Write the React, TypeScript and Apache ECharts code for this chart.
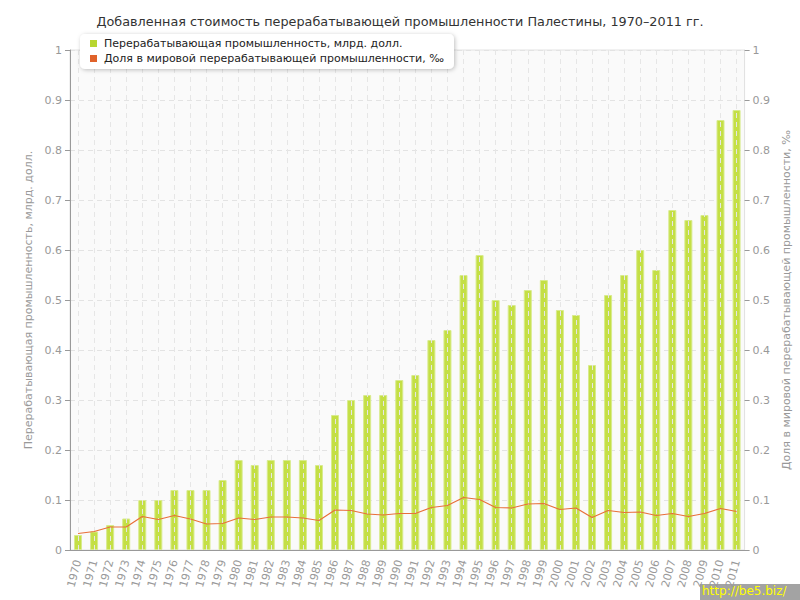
import React, { useEffect, useRef } from "react";
import * as echarts from "echarts";

const years: string[] = [
  "1970","1971","1972","1973","1974","1975","1976","1977","1978","1979",
  "1980","1981","1982","1983","1984","1985","1986","1987","1988","1989",
  "1990","1991","1992","1993","1994","1995","1996","1997","1998","1999",
  "2000","2001","2002","2003","2004","2005","2006","2007","2008","2009",
  "2010","2011",
];

const valueAdded: number[] = [
  0.03, 0.037, 0.05, 0.063, 0.10, 0.10, 0.12, 0.12, 0.12, 0.14,
  0.18, 0.17, 0.18, 0.18, 0.18, 0.17, 0.27, 0.30, 0.31, 0.31,
  0.34, 0.35, 0.42, 0.44, 0.55, 0.59, 0.50, 0.49, 0.52, 0.54,
  0.48, 0.47, 0.37, 0.51, 0.55, 0.60, 0.56, 0.68, 0.66, 0.67,
  0.86, 0.88,
];

const worldShare: number[] = [
  0.033, 0.037, 0.046, 0.046, 0.067, 0.061, 0.069, 0.062, 0.052, 0.053,
  0.064, 0.061, 0.066, 0.066, 0.064, 0.059, 0.080, 0.079, 0.072, 0.070,
  0.073, 0.073, 0.085, 0.089, 0.105, 0.101, 0.085, 0.084, 0.092, 0.093,
  0.081, 0.084, 0.065, 0.079, 0.075, 0.076, 0.069, 0.073, 0.067, 0.073,
  0.083, 0.077,
];

const titleText = "Добавленная стоимость перерабатывающей промышленности Палестины, 1970–2011 гг.";
const barName = "Перерабатывающая промышленность, млрд. долл.";
const lineName = "Доля в мировой перерабатывающей промышленности, ‰";

const FONT = "'DejaVu Sans', Verdana, sans-serif";

export default function App() {
  const ref = useRef<HTMLDivElement>(null);
  useEffect(() => {
    if (!ref.current) return;
    const chart = echarts.init(ref.current, undefined, { renderer: "svg" });
    const axisLabel = { color: "#999", fontSize: 11, fontFamily: FONT };
    chart.setOption({
      animation: false,
      backgroundColor: "#ffffff",
      textStyle: { fontFamily: FONT },
      title: {
        text: titleText,
        left: "center",
        top: 10,
        textStyle: { fontSize: 12.8, fontWeight: "normal", color: "#333", fontFamily: FONT },
      },
      legend: {
        orient: "vertical",
        left: 80,
        top: 34,
        z: 20,
        padding: [4, 10, 5, 10],
        itemWidth: 7,
        itemHeight: 7,
        itemGap: 4,
        backgroundColor: "#ffffff",
        borderRadius: 5,
        shadowColor: "rgba(0,0,0,0.25)",
        shadowBlur: 4,
        shadowOffsetX: 1,
        shadowOffsetY: 1,
        textStyle: { fontSize: 11, color: "#222", fontFamily: FONT, padding: [0, 0, 0, 2] },
        data: [
          { name: barName, icon: "rect", itemStyle: { color: "#b8d630", borderWidth: 0 } },
          { name: lineName, icon: "rect", itemStyle: { color: "#e0622a", borderWidth: 0 }, lineStyle: { width: 0 } },
        ],
      },
      grid: {
        left: 70,
        right: 50,
        top: 50,
        bottom: 50,
        show: true,
        backgroundColor: "#fafafa",
        borderColor: "#e2e2e2",
        borderWidth: 1,
      },
      xAxis: {
        type: "category",
        data: years,
        boundaryGap: true,
        axisLine: { lineStyle: { color: "#999" } },
        axisTick: { alignWithLabel: true, length: 5, lineStyle: { color: "#999" } },
        axisLabel: { ...axisLabel, rotate: 75, interval: 0, margin: 10 },
        splitLine: { show: false },
      },
      yAxis: [
        {
          type: "value",
          min: 0,
          max: 1,
          interval: 0.1,
          position: "left",
          name: barName,
          nameLocation: "middle",
          nameRotate: 90,
          nameGap: 32,
          nameTextStyle: { color: "#999", fontSize: 11, fontFamily: FONT },
          axisLine: { show: true, lineStyle: { color: "#999" } },
          axisTick: { show: true, length: 5, lineStyle: { color: "#999" } },
          axisLabel: { ...axisLabel, margin: 8 },
          splitLine: { show: true, lineStyle: { color: "#e3e3e3", type: [5, 4] } },
        },
        {
          type: "value",
          min: 0,
          max: 1,
          interval: 0.1,
          position: "right",
          name: lineName,
          nameLocation: "middle",
          nameRotate: 90,
          nameGap: 32,
          nameTextStyle: { color: "#999", fontSize: 11, fontFamily: FONT },
          axisLine: { show: true, lineStyle: { color: "#e2e2e2" } },
          axisTick: { show: true, length: 5, lineStyle: { color: "#999" } },
          axisLabel: { ...axisLabel, margin: 8 },
          splitLine: { show: false },
        },
      ],
      series: [
        {
          name: barName,
          type: "bar",
          data: valueAdded,
          yAxisIndex: 0,
          barWidth: 8,
          itemStyle: { color: "#c4df45", borderColor: "#d8eb8c", borderWidth: 1 },
          markLine: {
            silent: true,
            symbol: ["none", "none"],
            label: { show: false },
            lineStyle: { color: "#e6e6e6", type: [5, 4], width: 1 },
            data: years.map((y) => ({ xAxis: y })),
          },
        },
        {
          name: lineName,
          type: "line",
          data: worldShare,
          yAxisIndex: 1,
          showSymbol: false,
          symbol: "rect",
          z: 5,
          lineStyle: { color: "#e8703a", width: 1.2 },
          itemStyle: { color: "#e0622a" },
        },
      ],
      graphic: [
        {
          type: "rect",
          left: 700,
          top: 584,
          shape: { width: 100, height: 16 },
          style: { fill: "#a3a3a3" },
        },
        {
          type: "text",
          left: 702,
          top: 585,
          style: { text: "http://be5.biz/", fill: "#ffff00", fontSize: 12, fontFamily: FONT },
        },
      ],
    });
    return () => chart.dispose();
  }, []);
  return (
    <div
      ref={ref}
      style={{ position: "fixed", left: 0, top: 0, width: 800, height: 600 }}
    />
  );
}
